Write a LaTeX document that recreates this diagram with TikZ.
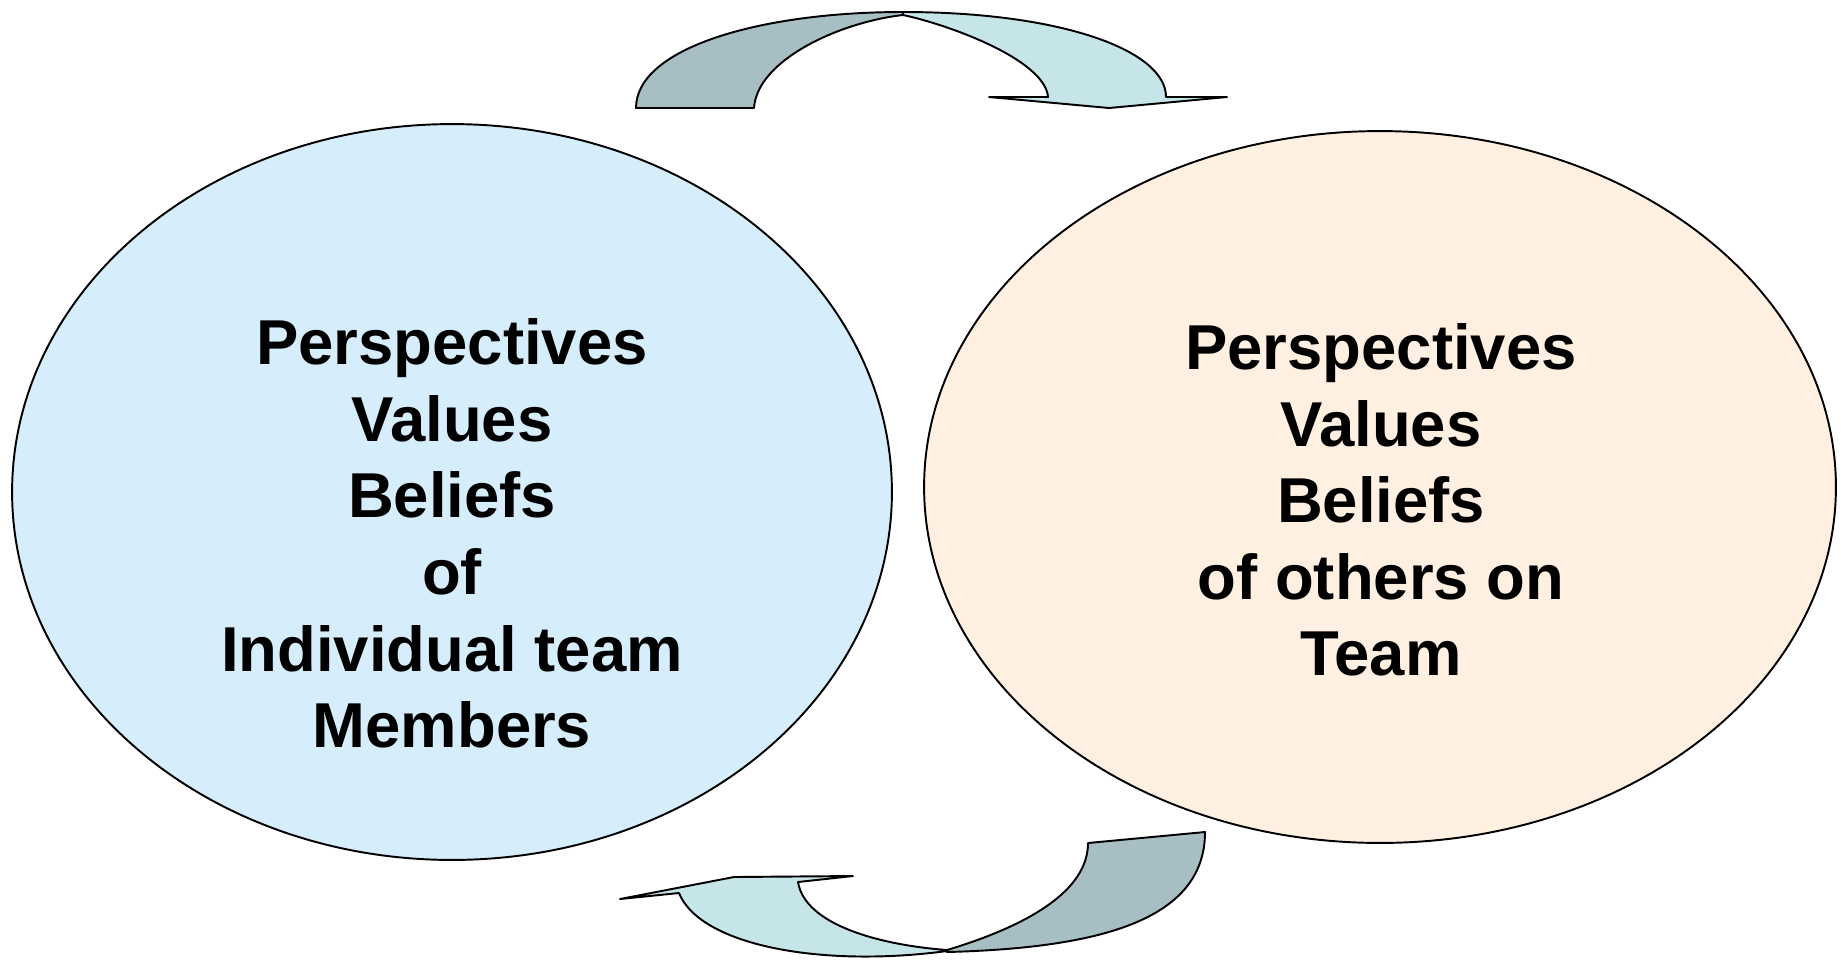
\documentclass[tikz,border=0pt]{standalone}
\usepackage{fontspec}
\setmainfont{Liberation Sans}
\usetikzlibrary{shapes.geometric, positioning}
\definecolor{selfblue}{RGB}{214, 238, 252}
\definecolor{othersbeige}{RGB}{255, 240, 226}
\definecolor{ribbondark}{RGB}{167, 191, 194}
\definecolor{ribbonlight}{RGB}{197, 229, 232}

\tikzset{
  bubble/.style={ellipse, draw=black, line width=1.1pt, inner sep=0pt},
  bubbletext/.style={align=center, font=\fontsize{36.1pt}{43.6pt}\selectfont\bfseries, inner sep=0pt},
  ribbon/.style={draw=black, line width=1.1pt, line join=round}
}

\begin{document}
\begin{tikzpicture}[x=0.02cm, y=-0.02cm]
  \useasboundingbox (0,0) rectangle (1841,965);
  % the two circles of beliefs
  \node[bubble, fill=selfblue, minimum width=17.6cm, minimum height=14.72cm] (individual) at (452,492) {};
  \node[bubble, fill=othersbeige, minimum width=18.24cm, minimum height=14.24cm] (others) at (1380,487) {};
  \node[bubbletext] (individuallabel) at (452,533.5) {Perspectives\\Values\\Beliefs\\of\\Individual team\\Members};
  \node[bubbletext] (otherslabel) at (1381,500) {Perspectives\\Values\\Beliefs\\of others on\\Team};

  % top ribbon arrow, left to right
  \draw[ribbon, fill=ribbondark] (636,108) .. controls (636,48) and (760,12) .. (903,12)
    -- (903,15) .. controls (840,22) and (757,60) .. (754,108) -- cycle;
  \draw[ribbon, fill=ribbonlight] (903,12) .. controls (1060,12) and (1166,50) .. (1166,97)
    -- (1227,97) -- (1109,108) -- (989,97) -- (1048,97)
    .. controls (1045,60) and (950,25) .. (903,15) -- cycle;

  % bottom ribbon arrow, right to left
  \draw[ribbon, fill=ribbondark] (1205,832) .. controls (1205,920) and (1100,948) .. (947,952)
    -- (947,950) .. controls (1030,925) and (1088,890) .. (1088,843) -- cycle;
  \draw[ribbon, fill=ribbonlight] (947,951) .. controls (820,968) and (700,945) .. (679,893)
    -- (620,899) -- (734,877) -- (853,876) -- (798,882)
    .. controls (805,925) and (880,945) .. (947,950) -- cycle;
\end{tikzpicture}
\end{document}
